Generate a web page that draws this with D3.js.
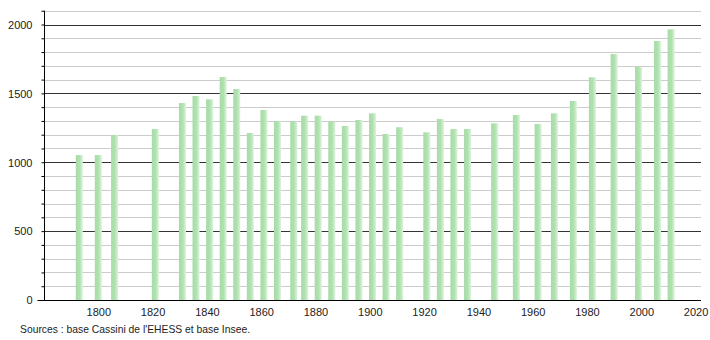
<!DOCTYPE html>
<html>
<head>
<meta charset="utf-8">
<script src="https://cdn.jsdelivr.net/npm/d3@7"></script>
<style>
  body { margin: 0; background: #fff; }
  svg text { font-family: "Liberation Sans", Arial, sans-serif; font-size: 11px; fill: #222; }
</style>
</head>
<body>
<svg id="chart" width="710" height="340"></svg>
<script>
'use strict';

// population by census year
var years = [1793, 1800, 1806, 1821, 1831, 1836, 1841, 1846, 1851, 1856,
    1861, 1866, 1872, 1876, 1881, 1886, 1891, 1896, 1901, 1906,
    1911, 1921, 1926, 1931, 1936, 1946, 1954, 1962, 1968, 1975,
    1982, 1990, 1999, 2006, 2011];
var population = [1052, 1052, 1198, 1241, 1430, 1481, 1457, 1619, 1532, 1212,
    1379, 1299, 1295, 1338, 1338, 1295, 1263, 1307, 1355, 1205,
    1254, 1217, 1314, 1241, 1241, 1283, 1343, 1278, 1355, 1445,
    1617, 1786, 1694, 1880, 1965];
var yTicks = [0, 500, 1000, 1500, 2000];
var xTicks = [1800, 1820, 1840, 1860, 1880, 1900, 1920, 1940, 1960, 1980, 2000, 2020];
var sourceText = "Sources : base Cassini de l'EHESS et base Insee.";

var svg = d3.select('#chart');

var x = d3.scaleLinear()
    .domain([1780, 2022])
    .range([44, 701]);

var y = d3.scaleLinear()
    .domain([0, 2000])
    .range([300, 24.5]);

// bar gradient
var grad = svg.append('defs').append('linearGradient')
    .attr('id', 'barGrad')
    .attr('x1', '0%').attr('x2', '100%');
grad.append('stop').attr('offset', '0%').attr('stop-color', '#a6dba6');
grad.append('stop').attr('offset', '55%').attr('stop-color', '#b0e2b0');
grad.append('stop').attr('offset', '100%').attr('stop-color', '#def3de');

// grid
var gridValues = d3.range(100, 2101, 100);
svg.append('g')
    .selectAll('line')
    .data(gridValues)
    .enter()
    .append('line')
    .attr('x1', x(1780))
    .attr('x2', x(2022))
    .attr('y1', function(d) { return Math.round(y(d)) + 0.5; })
    .attr('y2', function(d) { return Math.round(y(d)) + 0.5; })
    .attr('stroke', function(d) { return d % 500 === 0 ? '#333' : '#ccc'; })
    .attr('stroke-width', 1);

// bars
var barW = 7;
svg.append('g')
    .selectAll('rect')
    .data(years)
    .enter()
    .append('rect')
    .attr('x', function(d) { return x(d) - barW / 2; })
    .attr('y', function(d, i) { return y(population[i]); })
    .attr('width', barW)
    .attr('height', function(d, i) { return y(0) - y(population[i]); })
    .attr('fill', 'url(#barGrad)');

// y axis
var axisY = d3.axisLeft(y)
    .tickValues(d3.range(0, 2101, 100))
    .tickSize(3)
    .tickFormat(function(d) { return yTicks.indexOf(d) >= 0 ? d : ''; });

var gy = svg.append('g')
    .attr('transform', 'translate(' + (x(1780) + 0.5) + ',0)')
    .call(axisY);
gy.select('.domain').attr('d', 'M0,' + y(2100) + 'V' + (y(0) + 0.5)).attr('stroke', '#000');
gy.selectAll('.tick line').attr('stroke', '#000')
    .attr('x2', function(d) { return d === 0 ? -7 : -3; });
gy.selectAll('.tick text').attr('x', -12).attr('dy', '0.35em');

// x axis
var axisX = d3.axisBottom(x)
    .tickValues(xTicks)
    .tickSize(0)
    .tickFormat(d3.format('d'));

var gx = svg.append('g')
    .attr('transform', 'translate(0,' + (y(0) + 0.5) + ')')
    .call(axisX);
gx.select('.domain').attr('d', 'M' + (x(1780) - 6) + ',0H' + x(2022)).attr('stroke', '#000');
gx.selectAll('.tick text').attr('y', 8).attr('dy', '0.71em');

svg.append('text')
    .attr('x', 20)
    .attr('y', 333)
    .style('font-size', '10.4px')
    .attr('textLength', 230)
    .attr('lengthAdjust', 'spacingAndGlyphs')
    .text(sourceText);
</script>
</body>
</html>
